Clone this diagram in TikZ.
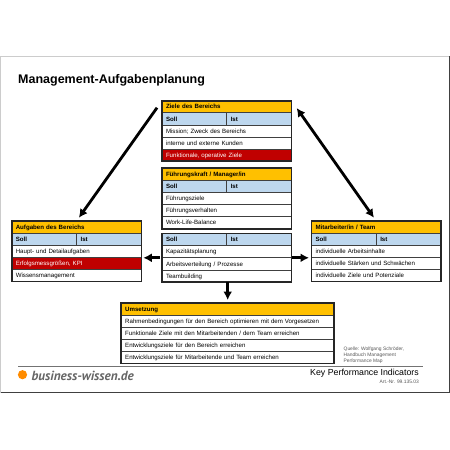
\documentclass[tikz,border=0pt]{standalone}
\usepackage{fontspec}
\setmainfont{Liberation Sans}
\newfontfamily\logofont{PT Sans}
\usetikzlibrary{fit, arrows.meta}

\definecolor{headorange}{HTML}{FFC000}
\definecolor{sollblue}{HTML}{BDD7EE}
\definecolor{rowred}{HTML}{C00000}
\definecolor{linegray}{HTML}{404040}

\tikzset{
  cell/.style={draw=linegray, line width=0.8pt, anchor=north west, inner xsep=4pt, inner ysep=0pt,
    outer sep=0pt, minimum height=12.1pt, text height=5pt, text depth=0.6pt,
    font=\fontsize{6.13}{7}\selectfont, align=left},
  fullcell/.style={cell, text width=121.5pt, minimum width=129.5pt},
  halfcell/.style={cell, text width=56.75pt, minimum width=64.75pt},
  widecell/.style={cell, text width=205pt, minimum width=213pt},
  headcell/.style={fill=headorange, font=\fontsize{6.13}{7}\selectfont\bfseries},
  sollcell/.style={fill=sollblue, font=\fontsize{6.13}{7}\selectfont\bfseries},
  redcell/.style={fill=rowred, text=white},
  outerbox/.style={draw=black!85, line width=1.6pt, inner sep=0pt, outer sep=0pt},
  bigarrow/.style={-{Latex[length=8.5pt,width=9pt]}, line width=2.8pt, black},
  smallgray/.style={text=black!65, font=\fontsize{4.9}{6}\selectfont, align=left, anchor=west, inner sep=0pt}
}

\begin{document}
\begin{tikzpicture}[x=1pt, y=-1pt, >=latex]
  \useasboundingbox (0,0) rectangle (450,450);
  \fill[white] (0,0) rectangle (450,450);

  % Frame
  \draw[black!20, line width=1pt] (0.7,393) -- (0.7,56.3) -- (449,56.3);
  \draw[linegray, line width=1pt] (449,56.3) -- (449,392.8) -- (0.7,392.8);

  % Title
  \node[anchor=west, inner sep=0pt, font=\fontsize{12.5}{15}\selectfont\bfseries] (title) at (18,80) {Management-Aufgabenplanung};

  % Ziele des Bereichs
  \node[fullcell, headcell] (zielehead) at (162,100.7) {Ziele des Bereichs};
  \node[halfcell, sollcell] (zielesoll) at (162,112.8) {Soll};
  \node[halfcell, sollcell] (zieleist) at (226.75,112.8) {Ist};
  \node[fullcell] (zieleA) at (162,124.9) {Mission; Zweck des Bereichs};
  \node[fullcell] (zieleB) at (162,137) {interne und externe Kunden};
  \node[fullcell, redcell] (zieleC) at (162,149.1) {Funktionale, operative Ziele};
  \node[outerbox, fit=(zielehead)(zieleC)] (ziele) {};

  % Fuehrungskraft
  \node[fullcell, headcell] (fuehrhead) at (162,168.2) {Führungskraft / Manager/in};
  \node[halfcell, sollcell] (fuehrsoll) at (162,180.3) {Soll};
  \node[halfcell, sollcell] (fuehrist) at (226.75,180.3) {Ist};
  \node[fullcell] (fuehrA) at (162,192.4) {Führungsziele};
  \node[fullcell] (fuehrB) at (162,204.5) {Führungsverhalten};
  \node[fullcell] (fuehrC) at (162,216.6) {Work-Life-Balance};
  \node[outerbox, fit=(fuehrhead)(fuehrC)] (fuehr) {};

  % Mitte
  \node[halfcell, sollcell] (mittesoll) at (162,233.6) {Soll};
  \node[halfcell, sollcell] (mitteist) at (226.75,233.6) {Ist};
  \node[fullcell] (mitteA) at (162,245.7) {Kapazitätsplanung};
  \node[fullcell] (mitteB) at (162,257.8) {Arbeitsverteilung / Prozesse};
  \node[fullcell] (mitteC) at (162,269.9) {Teambuilding};
  \node[outerbox, fit=(mittesoll)(mitteC)] (mitte) {};

  % Aufgaben des Bereichs
  \node[fullcell, headcell] (aufghead) at (11.8,221) {Aufgaben des Bereichs};
  \node[halfcell, sollcell] (aufgsoll) at (11.8,233.1) {Soll};
  \node[halfcell, sollcell] (aufgist) at (76.55,233.1) {Ist};
  \node[fullcell] (aufgA) at (11.8,245.2) {Haupt- und Detailaufgaben};
  \node[fullcell, redcell] (aufgB) at (11.8,257.3) {Erfolgsmessgrößen, KPI};
  \node[fullcell] (aufgC) at (11.8,269.4) {Wissensmanagement};
  \node[outerbox, fit=(aufghead)(aufgC)] (aufg) {};

  % Mitarbeiter
  \node[fullcell, headcell] (mitarbhead) at (311.5,221) {Mitarbeiter/in / Team};
  \node[halfcell, sollcell] (mitarbsoll) at (311.5,233.1) {Soll};
  \node[halfcell, sollcell] (mitarbist) at (376.25,233.1) {Ist};
  \node[fullcell] (mitarbA) at (311.5,245.2) {individuelle Arbeitsinhalte};
  \node[fullcell] (mitarbB) at (311.5,257.3) {individuelle Stärken und Schwächen};
  \node[fullcell] (mitarbC) at (311.5,269.4) {individuelle Ziele und Potenziale};
  \node[outerbox, fit=(mitarbhead)(mitarbC)] (mitarb) {};

  % Umsetzung
  \node[widecell, headcell] (umshead) at (121.2,303) {Umsetzung};
  \node[widecell] (umsA) at (121.2,315.1) {Rahmenbedingungen für den Bereich optimieren mit dem Vorgesetzen};
  \node[widecell] (umsB) at (121.2,327.2) {Funktionale Ziele mit den Mitarbeitenden / dem Team erreichen};
  \node[widecell] (umsC) at (121.2,339.3) {Entwicklungsziele für den Bereich erreichen};
  \node[widecell] (umsD) at (121.2,351.4) {Entwicklungsziele für Mitarbeitende und Team erreichen};
  \node[outerbox, fit=(umshead)(umsD)] (ums) {};

  % Arrows
  \draw[bigarrow, shorten <=8.6pt, shorten >=4pt] (ziele.north west) -- (aufg.north);
  \draw[bigarrow, {Latex[length=8.5pt,width=9pt]}-{Latex[length=8.5pt,width=9pt]}, shorten <=9pt, shorten >=4pt] (ziele.north east) -- (mitarb.north);
  \draw[bigarrow, shorten <=2pt, shorten >=2pt] (mitteB.north west) -- (mitteB.north west -| aufg.east);
  \draw[bigarrow, shorten >=2.5pt] (mitteB.north east) -- (mitteB.north east -| mitarb.west);
  \draw[bigarrow, shorten >=3pt] (ums.north |- mitte.south) -- (ums.north);

  % Footer
  \node[smallgray] (quelleA) at (343.5,349) {Quelle: Wolfgang Schröder,};
  \node[smallgray] (quelleB) at (343.5,355) {Handbuch Management};
  \node[smallgray] (quelleC) at (343.5,361) {Performance Map};
  \coordinate (ruleL) at (18,366);
  \coordinate (ruleR) at (423,366);
  \draw[black!55, line width=0.7pt] (ruleL) -- (ruleR);
  \fill[orange!90!yellow] (22.5,374.7) circle (4.6pt);
  \node[anchor=west, inner sep=0pt, text=black!60, font=\logofont\fontsize{13.2}{14}\selectfont\bfseries\itshape] (logo) at (31.5,375.5) {business-wissen.de};
  \node[anchor=east, inner sep=0pt, font=\fontsize{8.8}{10}\selectfont] (kpi) at (419,373.5) {Key Performance Indicators};
  \node[anchor=east, inner sep=0pt, text=black!65, font=\fontsize{4.9}{6}\selectfont] (artnr) at (419,382) {Art.-Nr. 99.135.03};
\end{tikzpicture}
\end{document}
